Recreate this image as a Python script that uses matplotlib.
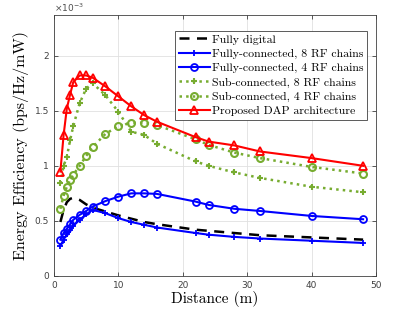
import numpy as np
import matplotlib
matplotlib.use("Agg")
import matplotlib.pyplot as plt

# Distance samples (m)
distance = [1, 1.5, 2, 2.5, 3, 4, 5, 6, 8, 10, 12, 14, 16, 22, 24, 28, 32, 40, 48]

# Energy efficiency values (x1e-3 bps/Hz/mW)
fully_digital = [0.49, 0.60, 0.67, 0.70, 0.71, 0.69, 0.65, 0.62, 0.585, 0.55,
                 0.52, 0.49, 0.47, 0.42, 0.41, 0.39, 0.37, 0.35, 0.33]
fc_8rf = [0.275, 0.33, 0.38, 0.42, 0.455, 0.51, 0.56, 0.60, 0.57, 0.525,
          0.49, 0.465, 0.44, 0.39, 0.375, 0.355, 0.34, 0.32, 0.30]
fc_4rf = [0.33, 0.39, 0.43, 0.47, 0.51, 0.555, 0.59, 0.63, 0.68, 0.72,
          0.75, 0.75, 0.745, 0.675, 0.645, 0.61, 0.59, 0.545, 0.515]
sc_8rf = [0.84, 1.0, 1.08, 1.23, 1.36, 1.57, 1.70, 1.75, 1.64, 1.49,
          1.31, 1.28, 1.20, 1.04, 1.00, 0.94, 0.89, 0.81, 0.76]
sc_4rf = [0.61, 0.73, 0.81, 0.87, 0.92, 1.0, 1.09, 1.17, 1.29, 1.36,
          1.39, 1.39, 1.37, 1.24, 1.19, 1.12, 1.07, 0.99, 0.93]
dap = [0.948, 1.28, 1.52, 1.645, 1.76, 1.82, 1.82, 1.80, 1.72, 1.63,
       1.54, 1.46, 1.40, 1.26, 1.22, 1.185, 1.13, 1.07, 1.0]

x = np.array(distance)
scale = 1e-3

green = "#77AC30"

fig = plt.figure(figsize=(4.15, 3.12), dpi=100)
ax = fig.add_axes([0.130, 0.1154, 0.776, 0.837])

ax.plot(x, np.array(fully_digital) * scale, "k--", lw=1.8, dashes=(4, 3),
        label="Fully digital")
ax.plot(x, np.array(fc_8rf) * scale, "-", color="b", lw=1.5, marker="+",
        ms=5, mew=1.3, label="Fully-connected, 8 RF chains")
ax.plot(x, np.array(fc_4rf) * scale, "-", color="b", lw=1.5, marker="o",
        ms=5, mew=1.3, mfc="none", label="Fully-connected, 4 RF chains")
ax.plot(x, np.array(sc_8rf) * scale, ":", color=green, lw=1.8, marker="+",
        ms=5, mew=1.5, label="Sub-connected, 8 RF chains")
ax.plot(x, np.array(sc_4rf) * scale, ":", color=green, lw=1.8, marker="o",
        ms=5, mew=1.5, mfc="none", label="Sub-connected, 4 RF chains")
ax.plot(x, np.array(dap) * scale, "-", color="r", lw=1.5, marker="^",
        ms=6, mew=1.3, mfc="none", label="Proposed DAP architecture")

ax.set_xlim(0, 50)
ax.set_ylim(0, 2.37e-3)
ax.set_xticks([0, 10, 20, 30, 40, 50])
ax.set_yticks([0, 0.5e-3, 1e-3, 1.5e-3, 2e-3])
ax.set_yticklabels(["0", "0.5", "1", "1.5", "2"])
ax.text(0.0, 1.005, r"$\times10^{-3}$", transform=ax.transAxes,
        fontsize=6.5, color="0.3", ha="left", va="bottom")

ax.grid(True, color="0.88", lw=0.6)
ax.tick_params(direction="in", top=True, right=True, labelsize=6.5,
               colors="0.25", length=3, width=0.6)
for s in ax.spines.values():
    s.set_color("0.25")
    s.set_linewidth(0.6)

ax.set_xlabel("Distance (m)", fontfamily="cmr10", fontsize=11, labelpad=1)
ax.set_ylabel("Energy Efficiency (bps/Hz/mW)", fontfamily="cmr10",
              fontsize=11.5, labelpad=4)

leg = ax.legend(loc="upper right", bbox_to_anchor=(0.972, 0.939),
                prop={"family": "cmr10", "size": 8.5},
                handlelength=2.6, handletextpad=0.2, labelspacing=0.33,
                borderpad=0.3, borderaxespad=0.0, fancybox=False,
                framealpha=1, edgecolor="0.25")
leg.get_frame().set_linewidth(0.6)

fig.savefig("out.png", dpi=100)
